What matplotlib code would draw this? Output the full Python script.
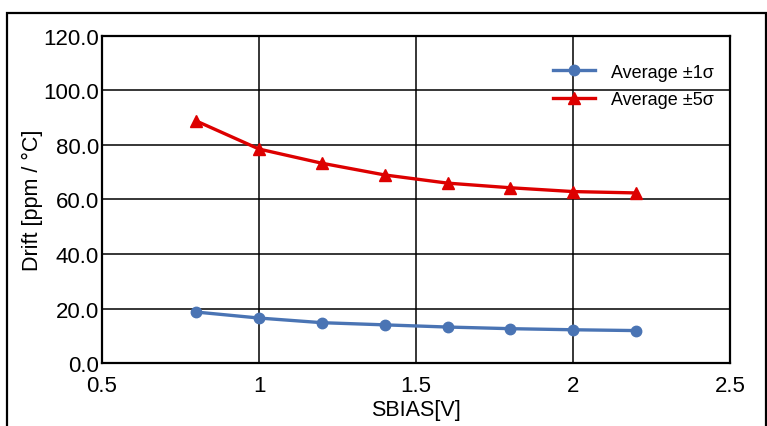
import matplotlib
matplotlib.use('Agg')
import matplotlib.pyplot as plt
from matplotlib.patches import Rectangle

plt.rcParams['font.family'] = ['Liberation Sans', 'DejaVu Sans']

# data
sbias = [0.8, 1.0, 1.2, 1.4, 1.6, 1.8, 2.0, 2.2]
avg_1sigma = [18.7, 16.5, 14.8, 14.0, 13.2, 12.6, 12.2, 11.9]
avg_5sigma = [88.8, 78.5, 73.3, 69.0, 66.0, 64.3, 62.9, 62.4]

xticks = [0.5, 1.0, 1.5, 2.0, 2.5]
xtick_labels = ['0.5', '1', '1.5', '2', '2.5']
yticks = [0, 20, 40, 60, 80, 100, 120]

fig = plt.figure(figsize=(7.67, 4.27), dpi=100)
ax = fig.add_axes([0.133, 0.1475, 0.819, 0.766])

ax.plot(sbias, avg_1sigma, '-o', color='#4a74b4', lw=2.4, ms=7.5,
        label='Average ±1σ')
ax.plot(sbias, avg_5sigma, '-^', color='#dd0000', lw=2.4, ms=8,
        label='Average ±5σ')

ax.set_xlim(0.5, 2.5)
ax.set_ylim(0, 120)
ax.set_xticks(xticks)
ax.set_xticklabels(xtick_labels)
ax.set_yticks(yticks)
ax.set_yticklabels(['%.1f' % v for v in yticks])
ax.tick_params(length=0, labelsize=16)
ax.tick_params(axis='x', pad=8.5)
ax.tick_params(axis='y', pad=2)
ax.grid(True, color='black', lw=1.1)
ax.set_axisbelow(True)
for s in ax.spines.values():
    s.set_linewidth(1.6)
    s.set_color('black')

ax.set_xlabel('SBIAS[V]', fontsize=15.5, labelpad=2)
ax.set_ylabel('Drift [ppm / °C]', fontsize=15.5, labelpad=0)

leg = ax.legend(loc='upper right', bbox_to_anchor=(1.0, 0.965), frameon=False,
                fontsize=13, handlelength=2.3, handletextpad=0.9,
                labelspacing=0.6)

# outer frame of the picture
fig.patches.append(Rectangle((7 / 767, -0.1), 759 / 767, 1.1 - 14 / 427,
                             transform=fig.transFigure, fill=False,
                             edgecolor='black', lw=1.6))

fig.savefig('out.png', dpi=100)
